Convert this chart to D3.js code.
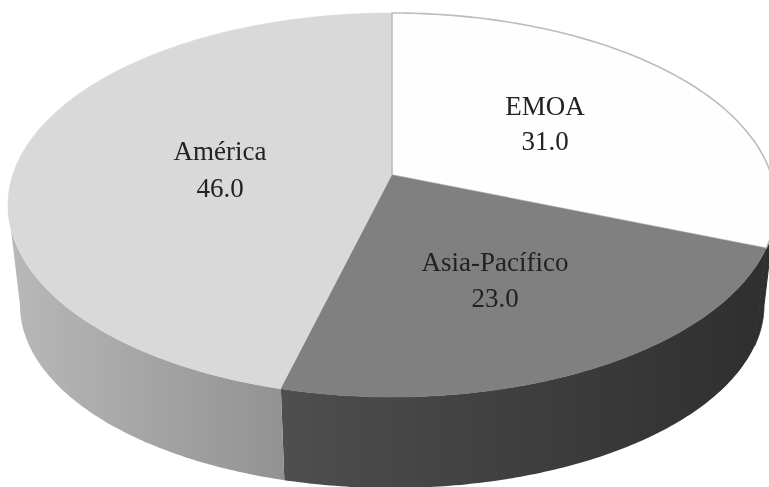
<!DOCTYPE html>
<html><head><meta charset="utf-8">
<script src="https://cdn.jsdelivr.net/npm/d3@7/dist/d3.min.js"></script>
<style>html,body{margin:0;padding:0;background:#fff;overflow:hidden}svg{display:block}</style>
</head><body><svg id="c" width="769" height="487"></svg>
<script>
const categories = ["EMOA", "Asia-Pacífico", "América"];
const values = [31.0, 23.0, 46.0];
const topColors = ["#fefefe", "#808080", "#d9d9d9"];
const sideStops = [["#2f2f2f","#2f2f2f"], ["#2f2f2f","#4e4e4e"], ["#b8b8b8","#929292"]];

const k = 0.156;
const svg = d3.select("#c");
const defs = svg.append("defs");
const blur = defs.append("filter").attr("id","soft").attr("x","-5%").attr("y","-5%").attr("width","110%").attr("height","110%");
blur.append("feGaussianBlur").attr("stdDeviation",0.7);

// A tilted disc: unit circle seen in perspective, so the hub sits above the ellipse centre.
function disc(cx, cy, rx, ry) {
  const b = ry * (1 - k * k), a = rx * Math.sqrt(1 - k * k), hubY = cy - ry * k;
  return t => {
    const u = Math.sin(t), v = -Math.cos(t), w = 1 - k * v;
    return [cx + a * u / w, hubY + b * v / w];
  };
}
const topRim = disc(392, 205, 384, 192);
const botRim = disc(392, 305, 372, 183);
const hub = [392, 205 - 192 * k];

const pie = d3.pie().sort(null)(values);
const line = d3.line();
const samples = (s, e) => d3.range(0, 121).map(i => s + (e - s) * i / 120);

// side walls: only the arc between the two silhouette points faces the viewer
const frontStart = Math.PI * 0.55, frontEnd = Math.PI * 1.45;
const walls = pie.map((p, i) => ({
  i, s: Math.max(p.startAngle, frontStart), e: Math.min(p.endAngle, frontEnd)
}));
walls.forEach(d => {
  const id = "side" + d.i;
  const g = defs.append("linearGradient").attr("id", id).attr("gradientUnits","userSpaceOnUse")
    .attr("x1", d.i === 2 ? 10 : 760).attr("x2", 285).attr("y1",0).attr("y2",0);
  g.append("stop").attr("offset",0).attr("stop-color", sideStops[d.i][0]);
  g.append("stop").attr("offset",1).attr("stop-color", sideStops[d.i][1]);
});
svg.append("g").selectAll("path").data(walls).join("path")
  .attr("d", d => {
    const t = samples(d.s, d.e);
    return line(t.map(topRim).concat(t.slice().reverse().map(botRim))) + "Z";
  })
  .attr("fill", d => `url(#side${d.i})`)
  .attr("stroke", d => d.i === 2 ? "none" : "#2f2f2f")
  .attr("stroke-width", d => d.i === 0 ? 1 : 0);

// top faces
const faces = svg.append("g").selectAll("path").data(pie).join("path")
  .attr("d", p => line([hub].concat(samples(p.startAngle, p.endAngle).map(topRim))) + "Z")
  .attr("fill", (p, i) => topColors[i])
  .attr("stroke", (p, i) => i === 0 ? "#bcbcbc" : topColors[i])
  .attr("stroke-width", (p, i) => i === 0 ? 1.6 : 0.6);
faces.filter((p, i) => i === 0).raise();
// the mid slice sits over the white slice's edge
svg.append("path").datum(pie[1])
  .attr("d", p => line([hub].concat(samples(p.startAngle, p.endAngle).map(topRim))) + "Z")
  .attr("fill", topColors[1]);

// labels
const labelAt = [[545, 115, 150], [495, 271, 307], [220, 160, 197]];
const labels = svg.append("g").attr("font-family","'Liberation Serif',serif").attr("font-size",27)
  .attr("fill","#222222").attr("text-anchor","middle").attr("filter","url(#soft)");
pie.forEach((p, i) => {
  labels.append("text").attr("x", labelAt[i][0]).attr("y", labelAt[i][1]).text(categories[i]);
  labels.append("text").attr("x", labelAt[i][0]).attr("y", labelAt[i][2]).text(d3.format(".1f")(values[i]));
});
</script></body></html>
